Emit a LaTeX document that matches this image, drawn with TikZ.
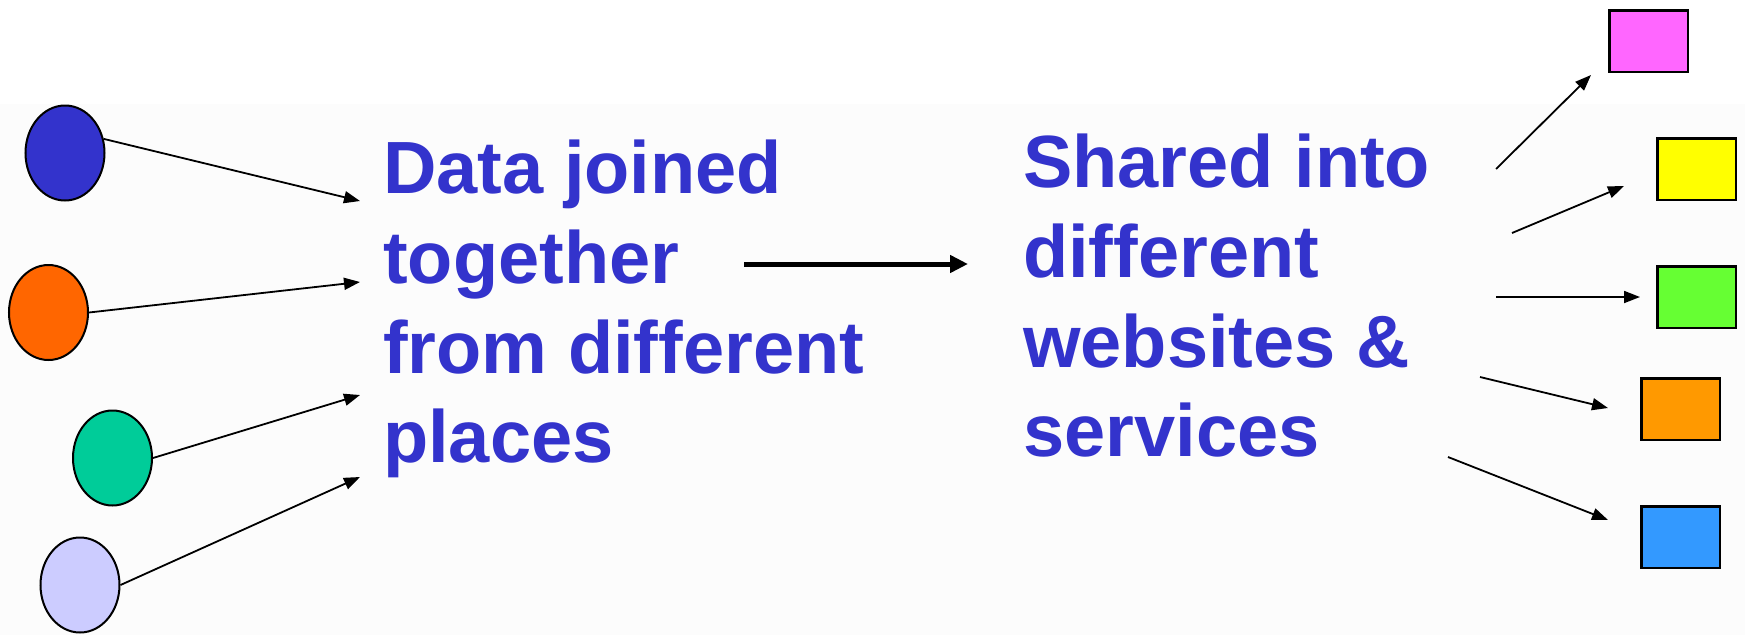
\documentclass[tikz,border=0pt]{standalone}
\usepackage{fontspec}
\setmainfont{Liberation Sans}
\usetikzlibrary{shapes.geometric,arrows.meta}
\definecolor{txtblue}{HTML}{3333CC}
\definecolor{cBlue}{HTML}{3333CC}
\definecolor{cOrange}{HTML}{FF6600}
\definecolor{cGreen}{HTML}{00CC99}
\definecolor{cLav}{HTML}{CCCCFF}
\definecolor{rPink}{HTML}{FF66FF}
\definecolor{rYellow}{HTML}{FFFF00}
\definecolor{rGreen}{HTML}{66FF33}
\definecolor{rOrange}{HTML}{FF9900}
\definecolor{rBlue}{HTML}{3399FF}
\definecolor{bgpale}{HTML}{FCFCFC}
\tikzset{
  src/.style={ellipse, draw=black, line width=2pt, minimum width=79pt, minimum height=95pt, inner sep=0pt},
  dst/.style={rectangle, draw=black, line width=2.5pt, minimum width=78.5pt, minimum height=61.5pt, inner sep=0pt},
  thinarrow/.style={line width=1.8pt, -{Triangle[length=16pt,width=12pt]}},
  thickarrow/.style={line width=5pt, -{Triangle[length=18pt,width=17pt]}},
  blocktext/.style={anchor=north west, align=left, inner sep=0pt, text=txtblue,
    font=\fontsize{74}{89.7}\selectfont\bfseries}
}
\begin{document}
\begin{tikzpicture}[x=1pt,y=-1pt]
\useasboundingbox (0,0) rectangle (1745,635);
\fill[white] (0,0) rectangle (1745,635);
\fill[bgpale] (0,104) rectangle (1745,635);

% source circles
\node[src, fill=cBlue]   (c1) at (65,153) {};
\node[src, fill=cOrange] (c2) at (48.5,312.5) {};
\node[src, fill=cGreen]  (c3) at (112.5,458) {};
\node[src, fill=cLav]    (c4) at (80,585) {};

% target rectangles
\node[dst, fill=rPink]   (r1) at (1648.5,41) {};
\node[dst, fill=rYellow] (r2) at (1696.5,169) {};
\node[dst, fill=rGreen]  (r3) at (1696.5,297) {};
\node[dst, fill=rOrange] (r4) at (1680.5,409) {};
\node[dst, fill=rBlue]   (r5) at (1680.5,537) {};

% texts
\node[blocktext] (t1) at (383,140) {Data joined\\together\\from different\\places};
\node[blocktext] (t2) at (1023,134) {Shared into\\different\\websites \&\\services};

% free ends
\coordinate (e1) at (360,201);
\coordinate (e2) at (360,282);
\coordinate (e3) at (360,395);
\coordinate (e4) at (360,477);

\coordinate (m1) at (744,264);
\coordinate (m2) at (968,264);

\coordinate (s1) at (1496,169);  \coordinate (f1) at (1591,75);
\coordinate (s2) at (1512,233);  \coordinate (f2) at (1624,186);
\coordinate (s3) at (1496,297);  \coordinate (f3) at (1640,297);
\coordinate (s4) at (1480,377);  \coordinate (f4) at (1608,408);
\coordinate (s5) at (1448,457);  \coordinate (f5) at (1608,520);

% connectors
\draw[thinarrow] (c1.20) -- (e1);
\draw[thinarrow] (c2.east) -- (e2);
\draw[thinarrow] (c3.east) -- (e3);
\draw[thinarrow] (c4.east) -- (e4);

\draw[thickarrow] (m1) -- (m2);

\draw[thinarrow] (s1) -- (f1);
\draw[thinarrow] (s2) -- (f2);
\draw[thinarrow] (s3) -- (f3);
\draw[thinarrow] (s4) -- (f4);
\draw[thinarrow] (s5) -- (f5);
\end{tikzpicture}
\end{document}
